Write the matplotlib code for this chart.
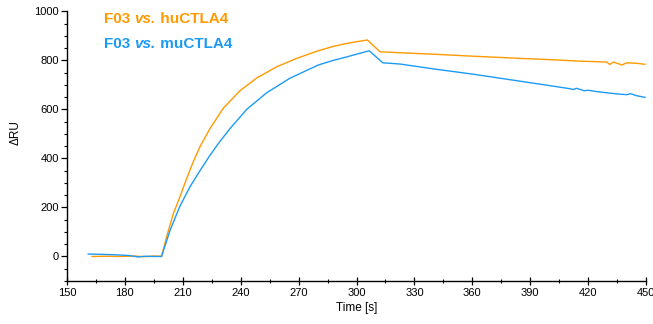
import matplotlib
matplotlib.use("Agg")
import matplotlib.pyplot as plt
from matplotlib.ticker import MultipleLocator

plt.rcParams['font.family'] = ['Liberation Sans', 'DejaVu Sans']

# F03 vs. huCTLA4 (orange)
t_hu = [163, 170, 178, 185, 190, 195, 199, 201.6, 205.1, 208.5, 212, 215.4, 218.9,
        224.1, 231, 239.6, 248.3, 258.7, 269, 280.2, 288, 294.9, 300, 305.6,
        312.2, 322.5, 340, 360, 384.7, 400, 415, 429.6,
        431.3, 433, 435, 437.5, 440, 445, 449.5]
v_hu = [0, 1, 0, 2, -1, 2, 1, 80, 175, 243, 318, 386, 448,
        522, 605, 676, 728, 774, 808, 839, 857, 869, 876, 883,
        835, 831, 825, 817, 808, 803, 797, 793,
        783, 793, 788, 781, 790, 788, 784]

# F03 vs. muCTLA4 (blue)
t_mu = [161, 167, 175, 182, 187, 190, 195, 199, 203.4, 208.5, 213.7, 218.9, 224.1,
        229.3, 234.5, 243.1, 253.5, 265.5, 280.2, 288, 294.9, 300,
        306.6, 313.6, 322.5, 340, 360, 384.7, 400, 410, 412.3, 414, 416, 418, 420,
        425, 435, 440, 442, 445, 449.5]
v_mu = [10, 9, 7, 4, -2, 1, 0, 0, 107, 205, 284, 350, 413,
        470, 522, 600, 668, 727, 781, 800, 814, 825,
        839, 790, 785, 765, 744, 715, 697, 685, 681, 686, 681, 676, 678,
        672, 663, 660, 664, 656, 649]

x_ticks = [150, 180, 210, 240, 270, 300, 330, 360, 390, 420, 450]
y_ticks = [0, 200, 400, 600, 800, 1000]

ORANGE = '#FF9A00'
BLUE = '#1C9BF5'

fig = plt.figure(figsize=(6.53, 3.24), dpi=100)
ax = fig.add_axes([0.1026, 0.1327, 0.8867, 0.8324])

ax.plot(t_hu, v_hu, color=ORANGE, lw=1.0)
ax.plot(t_mu, v_mu, color=BLUE, lw=1.0)

ax.set_xlim(150, 450)
ax.set_ylim(-100, 1000)
ax.set_xticks(x_ticks)
ax.set_yticks(y_ticks)
ax.xaxis.set_minor_locator(MultipleLocator(15))
ax.yaxis.set_minor_locator(MultipleLocator(50))

for s in ['top', 'right']:
    ax.spines[s].set_visible(False)
for s in ['left', 'bottom']:
    ax.spines[s].set_linewidth(1.0)

ax.tick_params(axis='x', which='major', direction='inout', length=6, width=0.9, labelsize=8, pad=2)
ax.tick_params(axis='x', which='minor', direction='inout', length=3, width=0.8)
ax.tick_params(axis='y', which='major', direction='out', length=4, width=0.9, labelsize=8, pad=2)
ax.tick_params(axis='y', which='minor', direction='out', length=2, width=0.8)

ax.set_xlabel('Time [s]', fontsize=8.5, labelpad=3)
ax.set_ylabel('ΔRU', fontsize=8.5)
ax.yaxis.set_label_coords(-0.078, 0.55)


def legend_line(y_frac, name, color):
    t1 = ax.text(0.064, y_frac, 'F03 ', transform=ax.transAxes, color=color,
                 fontsize=11, fontweight='bold', va='bottom', ha='left')
    t2 = ax.annotate('vs.', xy=(1, 0), xycoords=t1, color=color, fontsize=11,
                     fontweight='bold', fontstyle='italic', va='bottom', ha='left')
    ax.annotate(' ' + name, xy=(1, 0), xycoords=t2, color=color, fontsize=11,
                fontweight='bold', va='bottom', ha='left')


legend_line(0.947, 'huCTLA4', ORANGE)
legend_line(0.853, 'muCTLA4', BLUE)

fig.savefig('out.png', dpi=100)
